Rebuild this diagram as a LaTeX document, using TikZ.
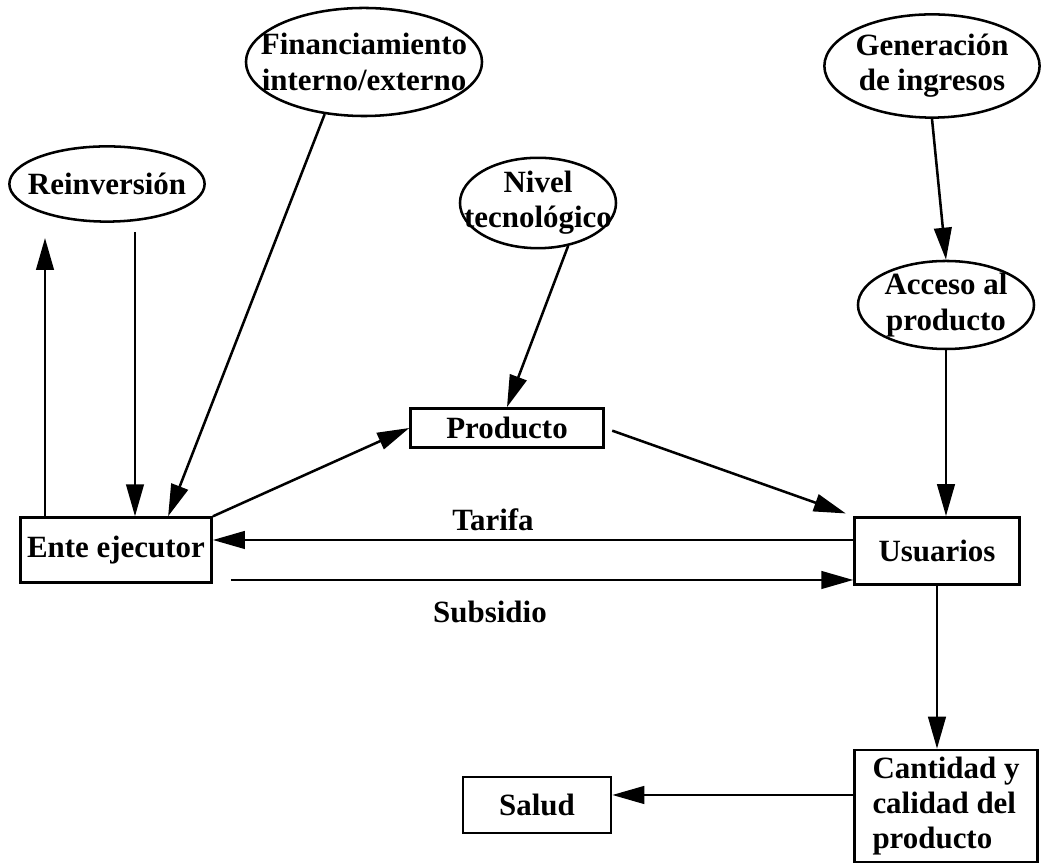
\documentclass[tikz,border=0pt]{standalone}
\usepackage{fontspec}
\setmainfont{Liberation Serif}
\usetikzlibrary{arrows.meta,shapes.geometric,calc}

\begin{document}
\begin{tikzpicture}[
  x=0.0125cm, y=0.0125cm,
  every node/.style={font=\fontsize{11}{12.5}\selectfont\bfseries, align=center, line width=0.9pt},
  bulle/.style={draw, ellipse, inner sep=0pt},
  boite/.style={draw, rectangle, inner sep=0pt},
  fleche/.style={-{Triangle[length=4mm, width=2.2mm]}, line width=0.9pt}
]
\useasboundingbox (0,0) rectangle (1041,865);

\node[bulle, minimum width=2.44cm, minimum height=0.94cm, label=center:{Reinversión}] (reinv) at (107,681) {};
\node[bulle, minimum width=2.95cm, minimum height=1.35cm, label=center:{Financiamiento\\interno/externo}] (finan) at (364,803) {};
\node[bulle, minimum width=1.95cm, minimum height=1.13cm, label=center:{Nivel\\tecnológico}] (nivel) at (538,662) {};
\node[bulle, minimum width=2.69cm, minimum height=1.29cm, label=center:{Generación\\de ingresos}] (gener) at (932,799) {};
\node[bulle, minimum width=2.2cm, minimum height=1.1cm, label=center:{Acceso al\\producto}] (acceso) at (946,560) {};

\node[boite, minimum width=2.41cm, minimum height=0.49cm] (prod) at (507,437) {Producto};
\node[boite, minimum width=2.39cm, minimum height=0.81cm] (ente) at (116,315) {Ente ejecutor};
\node[boite, minimum width=2.06cm, minimum height=0.84cm] (usu) at (937,314) {Usuarios};
\node[boite, minimum width=2.29cm, minimum height=1.4cm, align=left] (cant) at (946,59) {Cantidad y\\calidad del\\producto};
\node[boite, minimum width=1.85cm, minimum height=0.7cm] (salud) at (537,60) {Salud};

\node (tarifa) at (493,345) {Tarifa};
\node (subs) at (490,253) {Subsidio};

\coordinate (reinv-sortie) at (45,627);
\coordinate (reinv-entree) at (135,633);

\draw[fleche] (ente.north -| reinv-sortie) -- (reinv-sortie);
\draw[fleche] (reinv-entree) -- (ente.north -| reinv-entree);
\draw[fleche] (finan.233) -- ($(ente.north west)+(149,0)$);
\draw[fleche] (nivel.305) -- (prod.north);
\draw[fleche] (ente.north east) -- (prod.west);
\draw[fleche, shorten <=1mm, shorten >=1mm] (prod.east) -- (usu.north west);
\draw[fleche] (gener.south) -- (acceso.north);
\draw[fleche] (acceso.south) -- (usu.north -| acceso.south);
\draw[fleche] ($(usu.west)+(0,11)$) coordinate (t0) -- (t0 -| ente.east);
\draw[fleche] ($(ente.east)+(18,-30)$) coordinate (s0) -- (s0 -| usu.west);
\draw[fleche] (usu.south) -- (usu.south |- cant.north);
\draw[fleche] ($(cant.west)+(0,11)$) coordinate (c0) -- (c0 -| salud.east);

\end{tikzpicture}
\end{document}
